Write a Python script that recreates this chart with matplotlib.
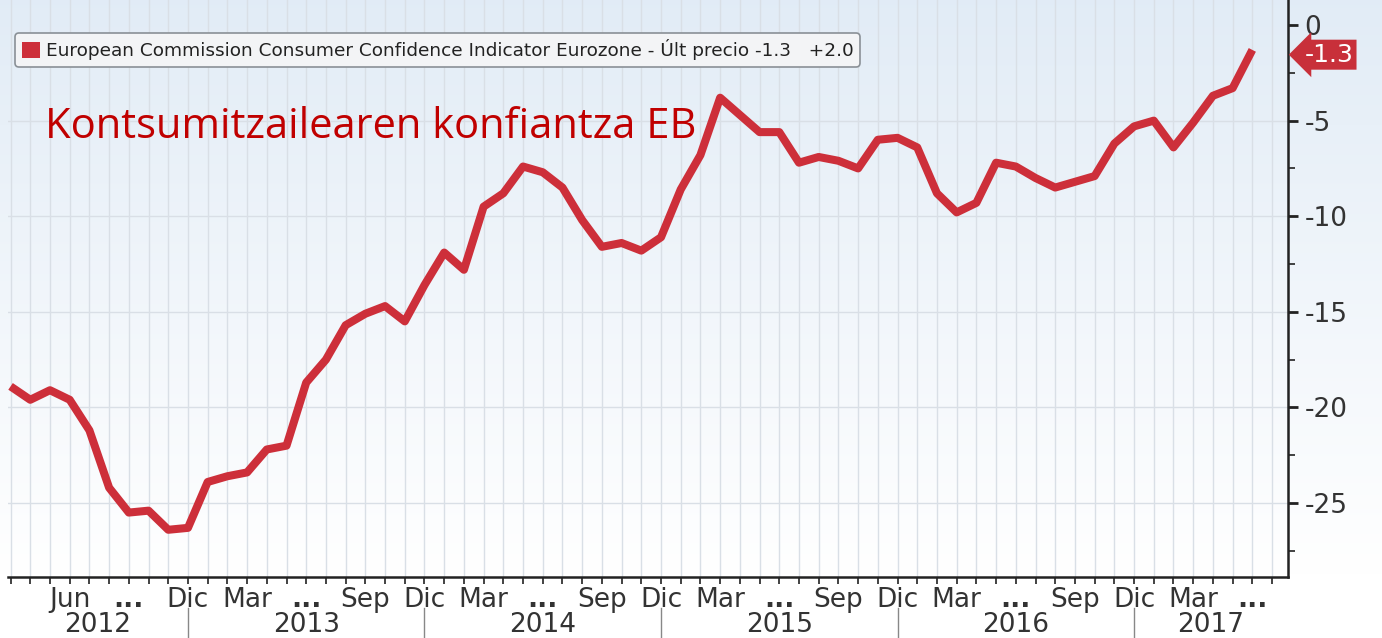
import numpy as np
import matplotlib.pyplot as plt
from matplotlib.patches import Patch
import matplotlib.transforms as mtransforms

# monthly values, Mar 2012 .. Jun 2017
values = [-18.9, -19.6, -19.1, -19.6, -21.2, -24.2, -25.5, -25.4, -26.4, -26.3,
          -23.9, -23.6, -23.4, -22.2, -22.0, -18.7, -17.5, -15.7, -15.1, -14.7,
          -15.5, -13.6, -11.9, -12.8, -9.5, -8.8, -7.4, -7.7, -8.5, -10.2,
          -11.6, -11.4, -11.8, -11.1, -8.6, -6.8, -3.8, -4.7, -5.6, -5.6,
          -7.2, -6.9, -7.1, -7.5, -6.0, -5.9, -6.4, -8.8, -9.8, -9.3,
          -7.2, -7.4, -8.0, -8.5, -8.2, -7.9, -6.2, -5.3, -5.0, -6.4,
          -5.1, -3.7, -3.3, -1.3]
month_pos = list(range(3, 64, 3))
month_labels = ['Jun', '...', 'Dic', 'Mar', '...', 'Sep', 'Dic', 'Mar', '...', 'Sep',
                'Dic', 'Mar', '...', 'Sep', 'Dic', 'Mar', '...', 'Sep', 'Dic', 'Mar', '...']
years = ['2012', '2013', '2014', '2015', '2016', '2017']
year_breaks = [9, 21, 33, 45, 57]
y_ticks = [0, -5, -10, -15, -20, -25]
legend_text = 'European Commission Consumer Confidence Indicator Eurozone - Últ precio -1.3   +2.0'
title = 'Kontsumitzailearen konfiantza EB'

red = '#cd2f3a'
txt = '#333333'
x = np.arange(len(values))
xmin, xmax = -0.13, 64.81

fig = plt.figure(figsize=(13.82, 6.38), dpi=100)
fig.patch.set_facecolor('white')

# background gradient
bg = fig.add_axes([0, 0, 1, 1], zorder=0)
grad = np.linspace(0, 1, 256).reshape(-1, 1)
top = np.array([0.885, 0.925, 0.965])
bottom = np.array([1.0, 1.0, 1.0])
img = top + (bottom - top) * np.clip(grad / 0.9, 0, 1)
img = np.repeat(img[:, None, :], 2, axis=1)
bg.imshow(img, aspect='auto', extent=[0, 1, 0, 1], origin='upper')
bg.axis('off')

ax = fig.add_axes([8 / 1382, 61 / 638, 1280 / 1382, 577 / 638], zorder=1)
ax.set_facecolor('none')
ax.set_xlim(xmin, xmax)
ax.set_ylim(-28.87, 1.31)

for i in range(0, 65):
    ax.axvline(i, color='#d9dfe6', lw=1, zorder=1)
for v in y_ticks[1:]:
    ax.axhline(v, color='#d9dfe6', lw=1, zorder=1)

ax.plot(x, values, color=red, lw=5.8, solid_joinstyle='round', solid_capstyle='butt', zorder=3)

for s in ['left', 'top']:
    ax.spines[s].set_visible(False)
for s in ['bottom', 'right']:
    ax.spines[s].set_color('#222222')
    ax.spines[s].set_linewidth(1.8)

ax.yaxis.tick_right()
ax.set_yticks(y_ticks)
ax.set_yticklabels([str(v) for v in y_ticks])
ax.set_yticks(np.arange(-27.5, 1, 5), minor=True)
ax.tick_params(axis='y', which='major', length=7, width=2, color='#222222',
               labelsize=19, labelcolor=txt, pad=5)
ax.tick_params(axis='y', which='minor', length=5, width=1.2, color='#222222')

ax.set_xticks(month_pos)
ax.set_xticklabels(month_labels)
for lab in ax.get_xticklabels():
    if lab.get_text() == '...':
        lab.set_fontweight('bold')
ax.set_xticks(range(0, 65), minor=True)
ax.tick_params(axis='x', which='both', length=5, width=1.2, color='#222222',
               labelsize=19, labelcolor=txt, pad=2)

# year row
trans = mtransforms.blended_transform_factory(ax.transData, ax.transAxes)
for b in year_breaks:
    ax.plot([b, b], [-0.054, -0.11], color='#888888', lw=1, transform=trans, clip_on=False)
edges = [xmin] + year_breaks + [xmax]
for i, yr in enumerate(years):
    ax.text((edges[i] + edges[i + 1]) / 2, -0.083, yr, transform=trans, ha='center',
            va='center', fontsize=19, color=txt)

leg = ax.legend(handles=[Patch(facecolor=red, edgecolor='none')], labels=[legend_text],
                loc='upper left', bbox_to_anchor=(0.0055, 0.943), borderaxespad=0,
                fontsize=13.3, handlelength=1.0, handleheight=1.0, handletextpad=0.3,
                fancybox=True, framealpha=1, borderpad=0.35)
leg.get_frame().set_facecolor('#f3f4f6')
leg.get_frame().set_edgecolor('#8a9096')
leg.get_frame().set_linewidth(1.2)
for t in leg.get_texts():
    t.set_color('#222222')

ax.text(0.029, 0.78, title, transform=ax.transAxes, fontsize=30, color='#c00000',
        va='center', ha='left', family=['Open Sans', 'DejaVu Sans'])

# last value tag, nudged down a little like the reference
trans_r = mtransforms.blended_transform_factory(ax.transAxes, ax.transData)
ax.text(1.013, values[-1] - 0.25, '-1.3', transform=trans_r, fontsize=18, color='white',
        va='center', ha='left',
        bbox=dict(boxstyle='larrow,pad=0.12', facecolor='#c8303a', edgecolor='none'),
        clip_on=False, zorder=5)

fig.savefig('out.png', dpi=100)
